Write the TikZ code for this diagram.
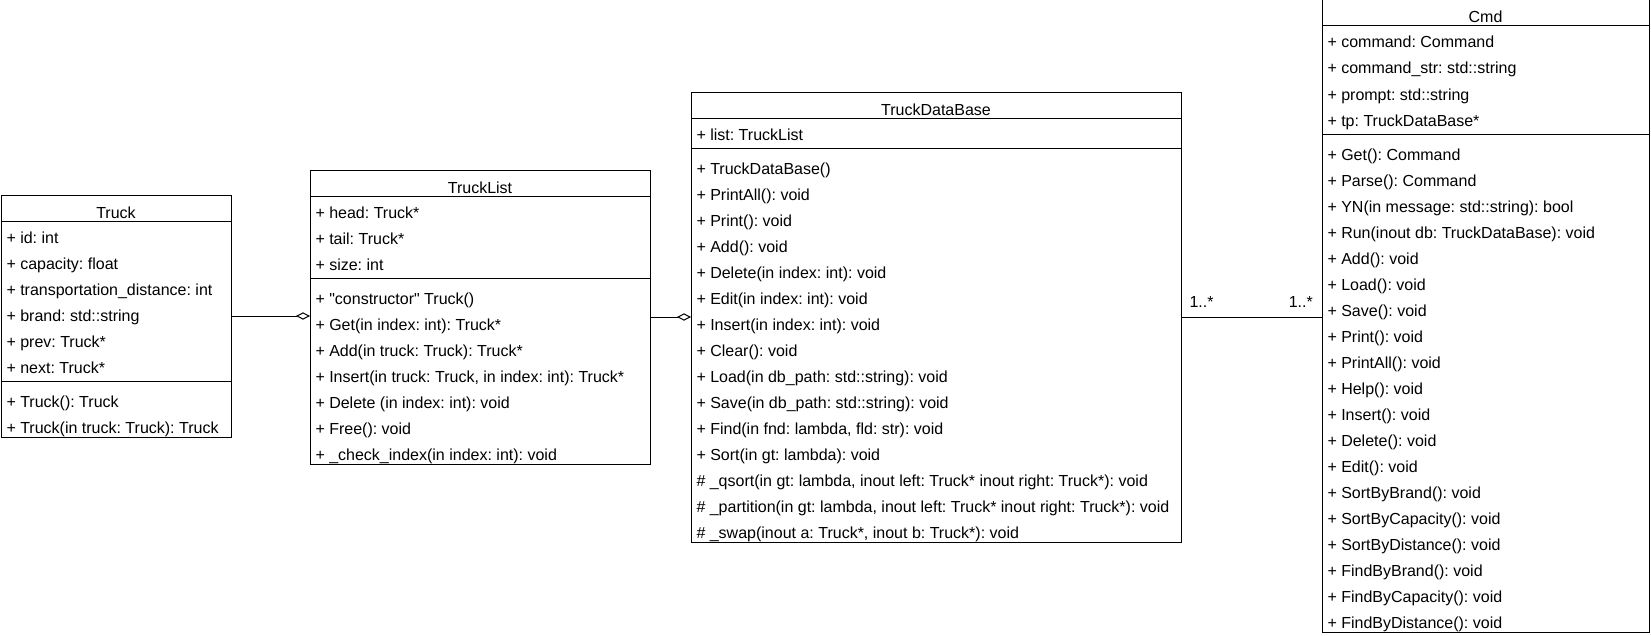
\documentclass[tikz,border=0pt]{standalone}
\usepackage{fontspec}
\setmainfont{Liberation Sans}[Ligatures=TeXOff]
\usetikzlibrary{arrows.meta,calc}
\frenchspacing

% one UML class: name, x, y, width, title, attributes, operations
\newcommand{\umlclass}[7]{%
  \coordinate (#1-nw) at (#2,#3);
  \node[classtitle] at ($(#1-nw)+(#4/2,23)$) {#5};
  \foreach \t [count=\i] in {#6} {
    \node[member] at ($(#1-nw)+(5,22+26*\i)$) {\t};
    \xdef\nattr{\i}
  }
  \draw ($(#1-nw)+(0,30+26*\nattr)$) -- ++(#4,0);
  \foreach \t [count=\i] in {#7} {
    \node[member] at ($(#1-nw)+(5,30+26*\nattr+26*\i)$) {\t};
    \xdef\nmeth{\i}
  }
  \node[classbox, minimum width=#4*0.75pt,
        minimum height={(34+26*(\nattr+\nmeth))*0.75pt}] (#1) at (#1-nw) {};
  \draw ($(#1-nw)+(0,26)$) -- ++(#4,0);
}

\begin{document}
\begin{tikzpicture}[x=0.75pt, y=-0.75pt, line width=0.75pt,
    classbox/.style={draw, anchor=north west, inner sep=0pt, outer sep=0pt},
    classtitle/.style={font=\fontsize{12}{14}\selectfont, anchor=base, inner sep=0pt},
    member/.style={font=\fontsize{12}{14}\selectfont, anchor=base west, inner sep=0pt},
    mult/.style={font=\fontsize{12}{14}\selectfont, inner sep=0pt, yshift=7.5pt},
    agg/.style={-{Diamond[open, length=10.5pt, width=5.5pt]}}]
    \useasboundingbox (0,0) rectangle (1651,635);

    \umlclass{truck}{1}{195}{230}{Truck}
      {+ id: int, + capacity: float, + transportation\_distance: int,
       + brand: std::string, + prev: Truck*, + next: Truck*}
      {+ Truck(): Truck, + Truck(in truck: Truck): Truck}

    \umlclass{list}{310}{170}{340}{TruckList}
      {+ head: Truck*, + tail: Truck*, + size: int}
      {+ "constructor" Truck(), + Get(in index: int): Truck*,
       + Add(in truck: Truck): Truck*,
       {+ Insert(in truck: Truck, in index: int): Truck*},
       + Delete (in index: int): void, + Free(): void,
       + \_check\_index(in index: int): void}

    \umlclass{tdb}{691}{92}{490}{TruckDataBase}
      {+ list: TruckList}
      {+ TruckDataBase(), + PrintAll(): void, + Print(): void, + Add(): void,
       + Delete(in index: int): void, + Edit(in index: int): void,
       + Insert(in index: int): void, + Clear(): void,
       + Load(in db\_path: std::string): void,
       + Save(in db\_path: std::string): void,
       {+ Find(in fnd: lambda, fld: str): void},
       + Sort(in gt: lambda): void,
       {\# \_qsort(in gt: lambda, inout left: Truck* inout right: Truck*): void},
       {\# \_partition(in gt: lambda, inout left: Truck* inout right: Truck*): void},
       {\# \_swap(inout a: Truck*, inout b: Truck*): void}}

    \umlclass{cmd}{1322}{0}{327}{Cmd}
      {+ command: Command, + command\_str: std::string,
       + prompt: std::string, + tp: TruckDataBase*}
      {+ Get(): Command, + Parse(): Command,
       + YN(in message: std::string): bool,
       + Run(inout db: TruckDataBase): void,
       + Add(): void, + Load(): void, + Save(): void, + Print(): void,
       + PrintAll(): void, + Help(): void, + Insert(): void,
       + Delete(): void, + Edit(): void, + SortByBrand(): void,
       + SortByCapacity(): void, + SortByDistance(): void,
       + FindByBrand(): void, + FindByCapacity(): void,
       + FindByDistance(): void}

    \draw[agg] (truck.east) -- (truck.east -| list.west);
    \draw[agg] (list.east) -- (list.east -| tdb.west);
    \draw (tdb.east) -- (tdb.east -| cmd.west)
      node[mult, pos=0, anchor=base west, xshift=6pt] {1..*}
      node[mult, pos=1, anchor=base east, xshift=-6.5pt] {1..*};
\end{tikzpicture}
\end{document}
